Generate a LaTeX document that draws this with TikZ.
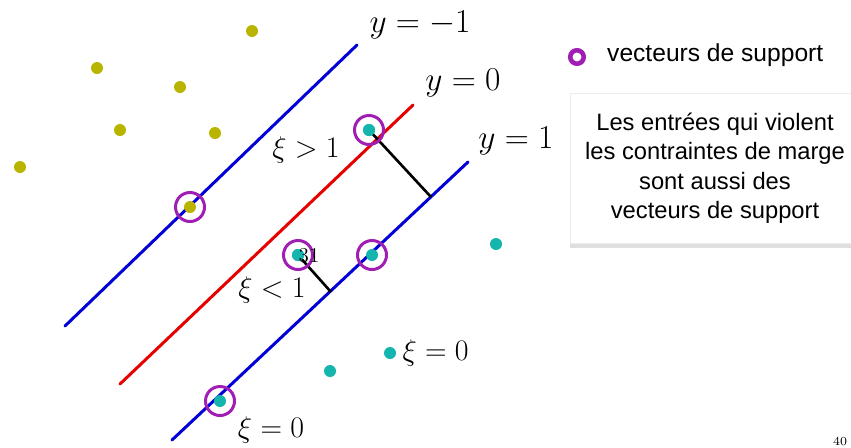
\RequirePackage{fix-cm}
\documentclass[tikz,border=0pt]{standalone}
\usepackage{fontspec}
\newfontfamily\sansfnt{Liberation Sans}
\usetikzlibrary{shadows,positioning}
\definecolor{olivept}{RGB}{184,180,0}
\definecolor{tealpt}{RGB}{20,180,175}
\definecolor{svpurple}{RGB}{160,30,180}
\definecolor{marginblue}{RGB}{0,0,215}
\definecolor{sepred}{RGB}{230,0,0}

\begin{document}
\begin{tikzpicture}[x=0.02cm,y=-0.02cm,
  dot/.style={circle,inner sep=0pt,minimum size=0.24cm},
  olive/.style={dot,fill=olivept},
  teal/.style={dot,fill=tealpt},
  ring/.style={circle,draw=svpurple,line width=1.7pt,inner sep=0pt,minimum size=0.58cm},
  bound/.style={line width=1.7pt,line cap=round},
  slack/.style={black,line width=1.5pt},
  ylab/.style={font=\fontsize{19}{22}\selectfont},
  xilab/.style={font=\fontsize{17}{20}\selectfont}]
\useasboundingbox (0,0) rectangle (851,447);

% the three lines
\draw[bound,marginblue] (65,326) -- (357,45);
\draw[bound,sepred] (120,384) -- (413,105);
\draw[bound,marginblue] (172,440) -- (468,162);

% points
\foreach \p/\q [count=\i] in {252/31,97/68,180/87,120/130,215/133,20/167,190/207}
  \node[olive] (o\i) at (\p,\q) {};
\foreach \p/\q [count=\i] in {369/130,298/255,372/255,496/244,390/353,330/371,220/401}
  \node[teal] (t\i) at (\p,\q) {};

% slack distances
\coordinate (f1) at (431,197);
\coordinate (f2) at (331,292);
\draw[slack] (t1.center) -- (f1);
\draw[slack] (t2.center) -- (f2);
\node[teal] at (t1) {}; \node[teal] at (t2) {};

% support vectors
\foreach \n in {o7,t1,t2,t3,t7} \node[ring] at (\n) {};
\node[font=\fontsize{12}{12}\selectfont] (n31) at (309,256) {31};

% labels
\node[ylab] (lm1) at (420,25) {$y=-1$};
\node[ylab] (l0) at (463,83) {$y=0$};
\node[ylab] (l1) at (516,141) {$y=1$};
\node[xilab] (xa) at (306,150) {$\xi>1$};
\node[xilab] (xb) at (272,290) {$\xi<1$};
\node[xilab,right=0pt of t5] (xc) {$\xi=0$};
\node[xilab] (xd) at (271,430) {$\xi=0$};

% legend and note
\node[circle,draw=svpurple,line width=2.6pt,inner sep=0pt,minimum size=0.27cm] (key) at (577,57) {};
\node[anchor=west,font=\sansfnt\fontsize{14}{17}\selectfont] (keytxt) at (601,55) {vecteurs de support};
\node[fill=white,draw=gray!15,drop shadow={shadow xshift=0pt,shadow yshift=-3pt,opacity=.25},minimum width=5.8cm,minimum height=3cm] (note) at (715,168) {};
\node[align=center,font=\sansfnt\fontsize{13.5}{16.8}\selectfont] (notetxt) at (note) {Les entrées qui violent\\les contraintes de marge\\sont aussi des\\vecteurs de support};
\node[font=\fontsize{7}{8}\selectfont] (pg) at (840,441) {40};
\end{tikzpicture}
\end{document}
